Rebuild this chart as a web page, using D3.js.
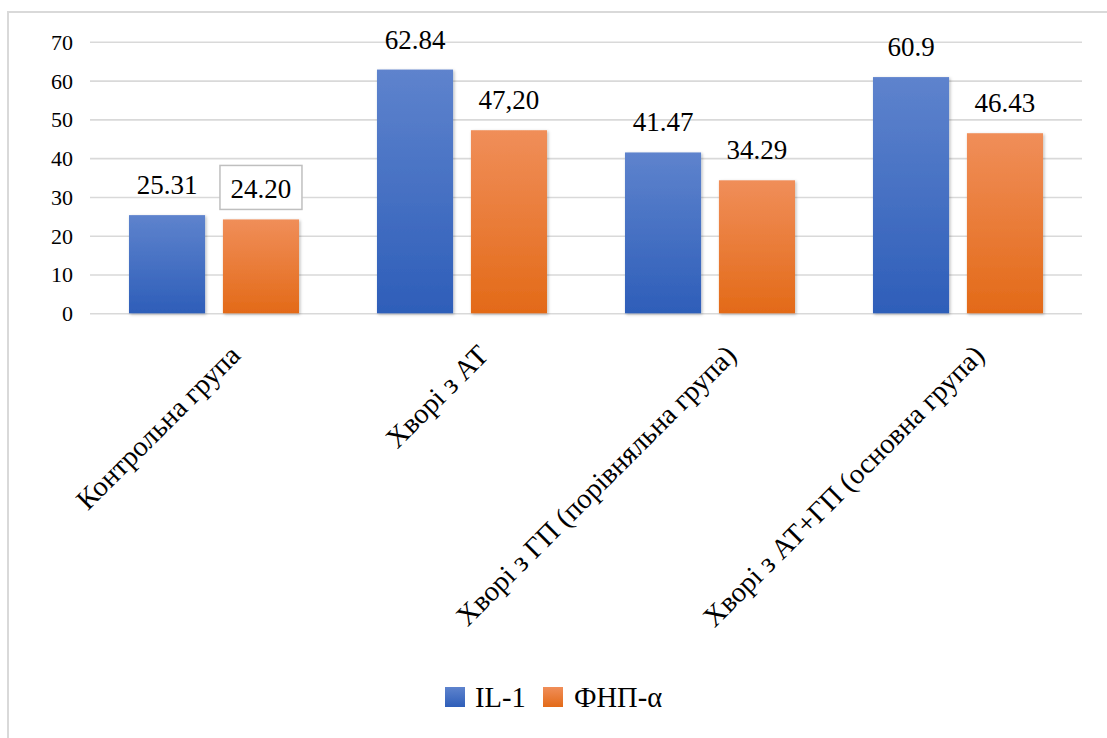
<!DOCTYPE html>
<html>
<head>
<meta charset="utf-8">
<script src="https://cdn.jsdelivr.net/npm/d3@7"></script>
<style>
  html, body { margin: 0; padding: 0; background: #ffffff; }
  svg { display: block; }
  #chart text { font-family: "Liberation Serif" !important; fill: #000; }
</style>
</head>
<body>
<svg id="chart" width="1107" height="738" font-family="Liberation Serif"></svg>
<script>
// Groups of patients and the two measured markers
const categories = [
  "Контрольна група",
  "Хворі з АТ",
  "Хворі з ГП (порівняльна група)",
  "Хворі з АТ+ГП (основна група)"
];
const seriesNames = ["IL-1", "ФНП-α"];
const il1Values = [25.31, 62.84, 41.47, 60.9];
const tnfValues = [24.20, 47.20, 34.29, 46.43];
const il1Labels = ["25.31", "62.84", "41.47", "60.9"];
const tnfLabels = ["24.20", "47,20", "34.29", "46.43"];
const yTicks = [0, 10, 20, 30, 40, 50, 60, 70];

const W = 1107, H = 738;
const plot = { left: 90, right: 1082, top: 41.8, bottom: 313.3 };

const svg = d3.select("#chart");

// Outer chart frame (runs off the right and bottom edges)
svg.append("rect")
  .attr("x", 8).attr("y", 12)
  .attr("width", W + 40).attr("height", H + 40)
  .attr("fill", "#ffffff")
  .attr("stroke", "#d9d9d9").attr("stroke-width", 2);

const defs = svg.append("defs");
function gradient(id, top, bottom) {
  const g = defs.append("linearGradient").attr("id", id)
    .attr("x1", 0).attr("y1", 0).attr("x2", 0).attr("y2", 1);
  g.append("stop").attr("offset", "0%").attr("stop-color", top);
  g.append("stop").attr("offset", "100%").attr("stop-color", bottom);
}
gradient("gBlue", "#5e83cd", "#2e5eb9");
gradient("gOrange", "#f08e59", "#e36a18");
const fills = ["url(#gBlue)", "url(#gOrange)"];

const shadow = defs.append("filter").attr("id", "barShadow")
  .attr("x", "-10%").attr("y", "-10%").attr("width", "130%").attr("height", "130%");
shadow.append("feDropShadow")
  .attr("dx", 1.2).attr("dy", 1.2).attr("stdDeviation", 1.4)
  .attr("flood-color", "#000").attr("flood-opacity", 0.28);

// Scales
const y = d3.scaleLinear().domain([0, 70]).range([plot.bottom, plot.top]);
const x0 = d3.scaleBand().domain(categories).range([plot.left, plot.right])
  .paddingInner(0).paddingOuter(0);
const x1 = d3.scaleBand().domain(seriesNames).range([0, x0.bandwidth()])
  .paddingInner(0.19).paddingOuter(0.415);

// Gridlines and value axis
const yAxis = d3.axisLeft(y)
  .tickValues(yTicks)
  .tickSize(-(plot.right - plot.left))
  .tickPadding(17)
  .tickFormat(d3.format("d"));

const gy = svg.append("g")
  .attr("transform", `translate(${plot.left},0)`)
  .call(yAxis)
  .attr("font-family", "Liberation Serif")
  .attr("font-size", 22);
gy.select(".domain").remove();
gy.selectAll(".tick line")
  .attr("stroke", "#d9d9d9").attr("stroke-width", 1.6);
gy.selectAll(".tick text")
  .attr("font-size", 22)
  .attr("dy", "0.34em");

// Bars
const rows = categories.map((c, i) => ({
  category: c,
  items: [
    { name: seriesNames[0], value: il1Values[i], label: il1Labels[i], s: 0, first: i === 0 },
    { name: seriesNames[1], value: tnfValues[i], label: tnfLabels[i], s: 1, first: i === 0 }
  ]
}));

const groups = svg.append("g").selectAll("g")
  .data(rows).join("g")
  .attr("transform", d => `translate(${x0(d.category)},0)`);

groups.selectAll("rect")
  .data(d => d.items).join("rect")
  .attr("x", d => x1(d.name))
  .attr("y", d => y(d.value))
  .attr("width", x1.bandwidth())
  .attr("height", d => y(0) - y(d.value))
  .attr("fill", d => fills[d.s])
  .attr("filter", "url(#barShadow)");

// Value labels above the bars
const labels = groups.selectAll("g.lbl")
  .data(d => d.items).join("g")
  .attr("class", "lbl")
  .attr("transform", d => `translate(${x1(d.name) + x1.bandwidth() / 2},${y(d.value) - 21})`);

// the control-group ФНП-α label sits in a bordered box
labels.filter(d => d.s === 1 && d.first)
  .append("rect")
  .attr("x", -41).attr("y", -33)
  .attr("width", 82).attr("height", 44)
  .attr("fill", "#ffffff")
  .attr("stroke", "#bfbfbf").attr("stroke-width", 1.5);

labels.append("text")
  .attr("text-anchor", "middle")
  .attr("font-size", 27)
  .text(d => d.label);

// Rotated category labels
svg.append("g").selectAll("text")
  .data(categories).join("text")
  .attr("transform", d => `translate(${x0(d) + x0.bandwidth() / 2 + 28},357) rotate(-45)`)
  .attr("text-anchor", "end")
  .attr("font-size", 28.5)
  .text(d => d);

// Legend
const legend = svg.append("g");
const legendItems = [
  { name: seriesNames[0], x: 445, tx: 475, fill: fills[0] },
  { name: seriesNames[1], x: 543, tx: 574, fill: fills[1] }
];
legend.selectAll("rect")
  .data(legendItems).join("rect")
  .attr("x", d => d.x).attr("y", 687)
  .attr("width", 20).attr("height", 20)
  .attr("fill", d => d.fill);
legend.selectAll("text")
  .data(legendItems).join("text")
  .attr("x", d => d.tx).attr("y", 706.5)
  .attr("font-size", 28.5)
  .text(d => d.name);
</script>
</body>
</html>
